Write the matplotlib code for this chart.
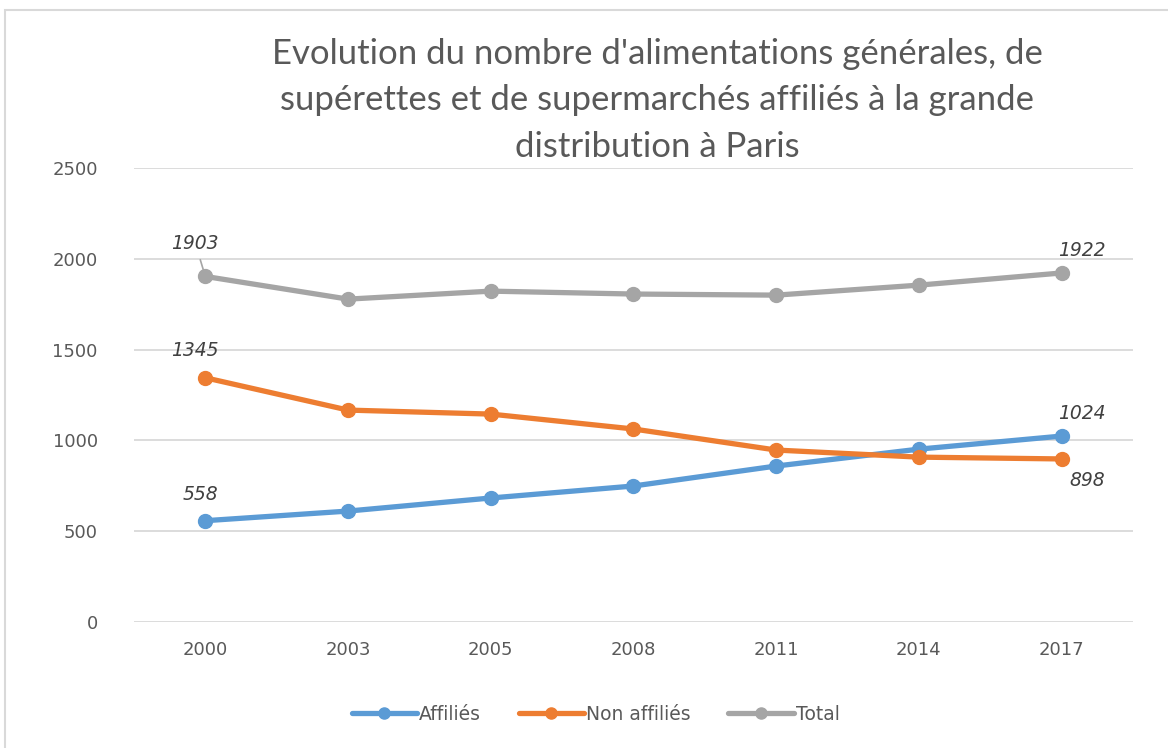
import matplotlib.pyplot as plt
from matplotlib.patches import Rectangle

# Data
years = ['2000', '2003', '2005', '2008', '2011', '2014', '2017']
affilies = [558, 611, 683, 749, 859, 952, 1024]
non_affilies = [1345, 1167, 1145, 1063, 947, 908, 898]
total = [1903, 1778, 1822, 1806, 1800, 1855, 1922]

blue = '#5b9bd5'
orange = '#ed7d31'
grey = '#a5a5a5'

fig = plt.figure(figsize=(11.68, 7.48), dpi=100)
ax = fig.add_axes([0.1147, 0.1684, 0.8553, 0.607])

x = range(len(years))
ax.plot(x, affilies, color=blue, lw=3.8, marker='o', ms=10, label='Affiliés', solid_capstyle='round')
ax.plot(x, non_affilies, color=orange, lw=3.8, marker='o', ms=10, label='Non affiliés', solid_capstyle='round')
ax.plot(x, total, color=grey, lw=3.8, marker='o', ms=10, label='Total', solid_capstyle='round')

# Data labels at first and last points
lab = dict(textcoords='offset pixels', fontsize=13.5, style='italic', color='#404040',
           ha='center', va='center')
ax.annotate(str(total[0]), (0, total[0]), xytext=(-10, 33),
            arrowprops=dict(arrowstyle='-', color=grey, lw=1.2, shrinkA=3, shrinkB=4), **lab)
ax.annotate(str(non_affilies[0]), (0, non_affilies[0]), xytext=(-10, 27), **lab)
ax.annotate(str(affilies[0]), (0, affilies[0]), xytext=(-5, 26), **lab)
ax.annotate(str(total[-1]), (6, total[-1]), xytext=(20, 22), **lab)
ax.annotate(str(affilies[-1]), (6, affilies[-1]), xytext=(20, 23), **lab)
ax.annotate(str(non_affilies[-1]), (6, non_affilies[-1]), xytext=(26, -22), **lab)

ax.set_xlim(-0.5, 6.5)
ax.set_ylim(0, 2500)
ax.set_yticks([0, 500, 1000, 1500, 2000, 2500])
ax.set_xticks(list(x))
ax.set_xticklabels(years)
ax.tick_params(length=0, labelsize=13, labelcolor='#595959')
ax.tick_params(axis='y', pad=26)
ax.tick_params(axis='x', pad=14)
ax.grid(axis='y', color='#d9d9d9', lw=1.3)
ax.set_axisbelow(True)
for s in ax.spines.values():
    s.set_visible(False)

fig.text(0.5625, 0.866,
         "Evolution du nombre d'alimentations générales, de\n"
         "supérettes et de supermarchés affiliés à la grande\n"
         "distribution à Paris",
         ha='center', va='center', fontsize=25, color='#595959', linespacing=1.55,
         family='Lato')

fig.legend(loc='center', bbox_to_anchor=(0.51, 0.045), ncol=3, frameon=False,
           fontsize=13.5, labelcolor='#595959', handlelength=3.5, handletextpad=0.1,
           columnspacing=2.0, markerscale=0.8)

fig.add_artist(Rectangle((0.004, -0.01), 1.0, 0.996, transform=fig.transFigure,
                         fill=False, edgecolor='#d9d9d9', lw=1.5))

plt.savefig('out.png', dpi=100)
